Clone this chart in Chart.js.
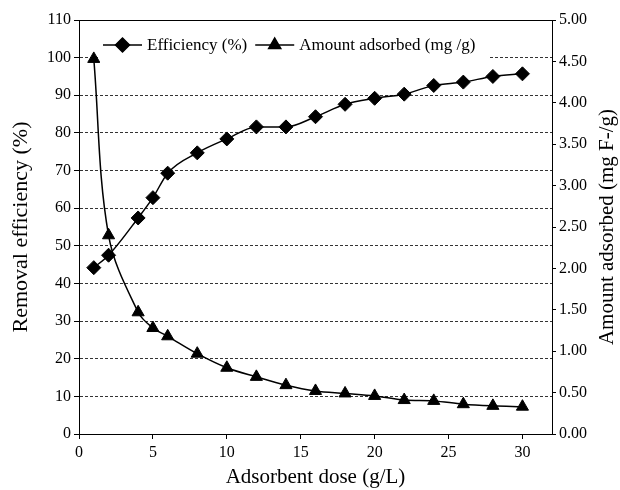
<!DOCTYPE html>
<html>
<head>
<meta charset="utf-8">
<script src="https://cdn.jsdelivr.net/npm/chart.js@4/dist/chart.umd.min.js"></script>
<style>
  body { margin: 0; background: #fff; }
  #wrap { width: 620px; height: 490px; }
</style>
</head>
<body>
<div id="wrap"><canvas id="doseChart" width="620" height="490"></canvas></div>
<script>
// adsorbent dose (g/L)
const doses = [1, 2, 4, 5, 6, 8, 10, 12, 14, 16, 18, 20, 22, 24, 26, 28, 30];
// removal efficiency (%)
const efficiency = [44.2, 47.5, 57.4, 62.8, 69.3, 74.7, 78.4, 81.6, 81.6, 84.3, 87.6, 89.2, 90.3, 92.6, 93.5, 95.0, 95.7];
// amount adsorbed (mg F-/g)
const amount = [4.53, 2.40, 1.47, 1.28, 1.18, 0.97, 0.80, 0.69, 0.59, 0.52, 0.49, 0.46, 0.41, 0.40, 0.36, 0.34, 0.33];

const xTitle = 'Adsorbent dose (g/L)';
const yTitle = 'Removal efficiency (%)';
const y2Title = 'Amount adsorbed (mg F-/g)';

const serif = "'Liberation Serif', 'Times New Roman', serif";
Chart.defaults.font.family = serif;
Chart.defaults.color = '#000';

// legend with white box, line + marker samples, and the right axis title (reads upward)
const extras = {
    id: 'extras',
    beforeDatasetsDraw(chart) {
        const ctx = chart.ctx;
        const a = chart.chartArea;
        ctx.save();
        ctx.strokeStyle = '#000';
        ctx.lineWidth = 1;
        ctx.beginPath();
        ctx.moveTo(a.left, a.top + 0.5);
        ctx.lineTo(a.right, a.top + 0.5);
        ctx.stroke();
        ctx.restore();
    },
    afterDraw(chart) {
        const ctx = chart.ctx;
        ctx.save();
        ctx.fillStyle = '#fff';
        ctx.fillRect(100, 30, 388, 33);

        ctx.font = '17px ' + serif;
        ctx.textBaseline = 'middle';
        let x = 103;
        const y = 45;
        chart.data.datasets.forEach(ds => {
            ctx.strokeStyle = '#000';
            ctx.lineWidth = 1.5;
            ctx.beginPath();
            ctx.moveTo(x, y);
            ctx.lineTo(x + 39, y);
            ctx.stroke();
            ctx.fillStyle = '#000';
            Chart.helpers.drawPoint(ctx, {
                pointStyle: ds.pointStyle,
                radius: ds.pointRadius,
                borderWidth: 1,
                rotation: 0
            }, x + 19.5, y);
            ctx.fill();
            ctx.fillStyle = '#000';
            ctx.fillText(ds.label, x + 44, y + 1);
            x += 44 + ctx.measureText(ds.label).width + 8;
        });

        const a = chart.chartArea;
        ctx.translate(607, (a.top + a.bottom) / 2);
        ctx.rotate(-Math.PI / 2);
        ctx.font = '21px ' + serif;
        ctx.textAlign = 'center';
        ctx.fillText(y2Title, 0, 0);
        ctx.restore();
    }
};

const ctx = document.getElementById('doseChart').getContext('2d');
new Chart(ctx, {
    type: 'line',
    data: {
        datasets: [{
            label: 'Efficiency (%)',
            data: doses.map((d, i) => ({ x: d, y: efficiency[i] })),
            yAxisID: 'y',
            borderColor: '#000',
            backgroundColor: '#000',
            borderWidth: 1.5,
            pointStyle: 'rectRot',
            pointRadius: 7,
            pointBorderWidth: 1,
            cubicInterpolationMode: 'monotone',
            fill: false
        }, {
            label: 'Amount adsorbed (mg /g)',
            data: doses.map((d, i) => ({ x: d, y: amount[i] })),
            yAxisID: 'y2',
            borderColor: '#000',
            backgroundColor: '#000',
            borderWidth: 1.5,
            pointStyle: 'triangle',
            pointRadius: 7,
            pointBorderWidth: 1,
            tension: 0.35,
            fill: false
        }]
    },
    options: {
        responsive: false,
        animation: false,
        layout: { padding: { top: 20, left: 0, right: 0, bottom: 0 } },
        plugins: {
            legend: { display: false },
            tooltip: { enabled: false }
        },
        scales: {
            x: {
                type: 'linear',
                min: 0,
                max: 32,
                ticks: { stepSize: 5, includeBounds: false, font: { size: 16 }, padding: 4 },
                grid: { drawOnChartArea: false, tickLength: 5, tickColor: '#000' },
                border: { color: '#000', width: 1 },
                title: { display: true, text: xTitle, font: { size: 21 }, padding: { top: 0, bottom: 0 } },
                afterFit: s => { s.height = 56; }
            },
            y: {
                position: 'left',
                min: 0,
                max: 110,
                ticks: { stepSize: 10, font: { size: 16 }, padding: 3 },
                grid: {
                    color: c => (c.tick && c.tick.value > 0 && c.tick.value < 110) ? '#333' : 'rgba(0,0,0,0)',
                    tickColor: '#000',
                    tickLength: 5,
                    lineWidth: 1
                },
                border: { color: '#000', width: 1, dash: [3, 2] },
                title: { display: true, text: yTitle, font: { size: 22 }, padding: { top: 8, bottom: 0 } },
                afterFit: s => { s.width = 79; }
            },
            y2: {
                position: 'right',
                min: 0,
                max: 5,
                ticks: { stepSize: 0.5, font: { size: 16 }, padding: 3, callback: v => v.toFixed(2) },
                grid: { drawOnChartArea: false, tickLength: 4, tickColor: '#000' },
                border: { color: '#000', width: 1 },
                afterFit: s => { s.width = 68; }
            }
        }
    },
    plugins: [extras]
});
</script>
</body>
</html>
